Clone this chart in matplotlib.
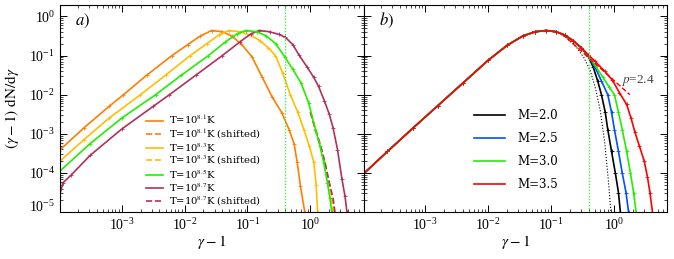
import numpy as np
import matplotlib
matplotlib.use("Agg")
import matplotlib.pyplot as plt
from matplotlib.ticker import (LogLocator, LogFormatterMathtext, NullFormatter,
                               FixedLocator)
from matplotlib.transforms import ScaledTranslation

plt.rcParams['mathtext.fontset'] = 'stix'
plt.rcParams['font.family'] = ['Liberation Serif', 'DejaVu Serif']

# panel a: log10(gamma-1), log10((gamma-1) dN/dgamma)
t81_lx = [-4.0, -3.6, -3.2, -2.97, -2.6, -2.2, -1.95, -1.75, -1.57, -1.4, -1.25, -1.1,
          -0.93, -0.77, -0.61, -0.455, -0.34, -0.26, -0.21, -0.16, -0.09]
t81_ly = [-3.44, -2.85, -2.3, -2.0, -1.5, -1.0, -0.72, -0.5, -0.36, -0.39, -0.5, -0.7,
          -1.03, -1.54, -2.05, -2.46, -2.89, -3.25, -3.73, -4.32, -5.0]
t83_lx = [-4.0, -3.6, -3.2, -2.7, -2.3, -1.91, -1.65, -1.45, -1.30, -1.12, -0.95, -0.8,
          -0.67, -0.555, -0.44, -0.32, -0.2, -0.105, -0.02, 0.054, 0.09, 0.115]
t83_ly = [-3.73, -3.15, -2.6, -2.0, -1.5, -1.0, -0.7, -0.47, -0.36, -0.39, -0.48, -0.62,
          -0.8, -1.0, -1.45, -2.0, -2.45, -2.89, -3.3, -3.73, -4.3, -5.0]
t85_lx = [-4.0, -3.5, -3.0, -2.46, -2.05, -1.62, -1.35, -1.17, -1.03, -0.85, -0.7, -0.55,
          -0.41, -0.28, -0.15, -0.03, 0.08, 0.15, 0.21, 0.27, 0.31, 0.34]
t85_ly = [-3.98, -3.25, -2.6, -2.0, -1.5, -1.0, -0.65, -0.45, -0.36, -0.39, -0.5, -0.7,
          -1.03, -1.35, -1.7, -2.2, -2.89, -3.3, -3.73, -4.25, -4.65, -5.0]
t87_lx = [-3.99, -3.93, -3.8, -3.5, -3.0, -2.5, -2.24, -1.82, -1.40, -1.12, -0.95, -0.82,
          -0.65, -0.5, -0.4, -0.28, -0.18, -0.05, 0.05, 0.13, 0.22, 0.3, 0.36, 0.43,
          0.5, 0.55, 0.58]
t87_ly = [-4.6, -4.25, -4.05, -3.55, -2.88, -2.3, -2.0, -1.5, -1.0, -0.65, -0.45, -0.36,
          -0.39, -0.46, -0.53, -0.72, -0.99, -1.3, -1.55, -1.79, -2.15, -2.5, -2.85, -3.4,
          -4.15, -4.6, -5.0]

# shifted tails (dashed), they sit on the T=10^8.5 curve
s81_lx = [0.0, 0.08, 0.16, 0.23, 0.29, 0.34, 0.37]
s81_ly = [-2.45, -2.89, -3.3, -3.73, -4.2, -4.6, -5.0]
s83_lx = [0.0, 0.08, 0.155, 0.22, 0.285, 0.33, 0.36]
s83_ly = [-2.45, -2.89, -3.3, -3.73, -4.25, -4.6, -5.0]
s87_lx = [0.0, 0.08, 0.16, 0.23, 0.3, 0.36, 0.39]
s87_ly = [-2.45, -2.89, -3.3, -3.73, -4.25, -4.65, -5.0]

# panel b: common low-energy part
b_core_lx = [-4.0, -3.6, -3.2, -2.8, -2.4, -2.0, -1.7, -1.45, -1.25, -1.08, -0.92, -0.78,
             -0.65, -0.52]
b_core_ly = [-4.05, -3.45, -2.86, -2.28, -1.7, -1.12, -0.74, -0.5, -0.39, -0.36, -0.39, -0.48,
             -0.62, -0.80]
m20_lx = [-0.41, -0.33, -0.26, -0.2, -0.14, -0.1, -0.04, 0.02, 0.07, 0.10]
m20_ly = [-1.02, -1.3, -1.65, -2.0, -2.45, -2.89, -3.45, -4.0, -4.5, -5.0]
m25_lx = [-0.41, -0.3, -0.2, -0.1, -0.04, 0.006, 0.07, 0.13, 0.19, 0.23]
m25_ly = [-1.0, -1.3, -1.65, -2.0, -2.45, -2.89, -3.45, -4.0, -4.5, -5.0]
m30_lx = [-0.41, -0.3, -0.18, -0.08, 0.006, 0.07, 0.13, 0.2, 0.26, 0.31, 0.35]
m30_ly = [-0.99, -1.25, -1.55, -1.8, -2.0, -2.45, -2.89, -3.45, -4.0, -4.5, -5.0]
m35_lx = [-0.41, -0.3, -0.15, -0.025, 0.086, 0.2, 0.27, 0.33, 0.40, 0.48, 0.53, 0.57, 0.61]
m35_ly = [-0.98, -1.15, -1.4, -1.63, -1.95, -2.25, -2.6, -2.95, -3.3, -3.7, -4.1, -4.5, -5.0]
maxw_lx = [-1.3, -1.08, -0.9, -0.75, -0.6, -0.48, -0.38, -0.3, -0.22, -0.15, -0.09, -0.05]
maxw_ly = [-0.39, -0.36, -0.41, -0.55, -0.78, -1.05, -1.38, -1.8, -2.4, -3.2, -4.2, -5.0]
p24_lx = [-0.83, 0.25]
p24_ly = [-0.44, -2.0]

t_colors = ['#ff7f00', '#ffbf00', '#22ee00', '#b03060']
m_colors = ['black', '#0050ff', '#22ee00', '#ff0000']
vline_x = 0.4
xlim = (1.05e-4, 7)
ylim = (1e-5, 2)
xmajor = [1e-3, 1e-2, 1e-1, 1e0]


def pw(lx):
    return 10 ** np.array(lx)


fig, (ax1, ax2) = plt.subplots(1, 2, figsize=(6.74, 2.59), dpi=100, sharey=True)
fig.subplots_adjust(left=0.089, right=0.99, top=0.982, bottom=0.181, wspace=0)

mk = dict(marker='+', ms=3, mew=0.6)
ls81, = ax1.plot(pw(s81_lx), pw(s81_ly), color=t_colors[0], lw=1.2, ls='--')
ls83, = ax1.plot(pw(s83_lx), pw(s83_ly), color=t_colors[1], lw=1.2, ls='--')
ls87, = ax1.plot(pw(s87_lx), pw(s87_ly), color=t_colors[3], lw=1.2, ls='--')
l81, = ax1.plot(pw(t81_lx), pw(t81_ly), color=t_colors[0], lw=1.2, **mk)
l83, = ax1.plot(pw(t83_lx), pw(t83_ly), color=t_colors[1], lw=1.2, **mk)
l87, = ax1.plot(pw(t87_lx), pw(t87_ly), color=t_colors[3], lw=1.2, **mk)
l85, = ax1.plot(pw(t85_lx), pw(t85_ly), color=t_colors[2], lw=1.2, **mk)
leg1 = ax1.legend([l81, ls81, l83, ls83, l85, l87, ls87],
                  [r'T=10$^{8.1}$K', r'T=10$^{8.1}$K (shifted)',
                   r'T=10$^{8.3}$K', r'T=10$^{8.3}$K (shifted)',
                   r'T=10$^{8.5}$K',
                   r'T=10$^{8.7}$K', r'T=10$^{8.7}$K (shifted)'],
                  loc='lower left', bbox_to_anchor=(0.262, -0.01), frameon=False,
                  prop={'family': 'DejaVu Serif', 'size': 7.2},
                  handlelength=1.7, labelspacing=0.0, borderpad=0.15, handletextpad=0.6)
for ln in leg1.get_lines():
    ln.set_marker('')

ax2.plot(pw(maxw_lx), pw(maxw_ly), color='black', lw=0.8, ls=':')
tails = [(m20_lx, m20_ly), (m25_lx, m25_ly), (m30_lx, m30_ly), (m35_lx, m35_ly)]
labels = ['M=2.0', 'M=2.5', 'M=3.0', 'M=3.5']
for (tx, ty), c, lab in zip(tails, m_colors, labels):
    ax2.plot(pw(b_core_lx + tx), pw(b_core_ly + ty), color=c, lw=1.2, label=lab, **mk)
ax2.plot(pw(p24_lx), pw(p24_ly), color='red', lw=1.0, ls='--')
ax2.text(1.3, 0.023, '$p$=2.4', fontsize=9.5, color='#444444', va='center')
leg2 = ax2.legend(loc='lower left', bbox_to_anchor=(0.33, 0.05), frameon=False,
                  prop={'family': 'DejaVu Serif', 'size': 8.5},
                  handlelength=2.6, labelspacing=0.85, handletextpad=1.0)
for ln in leg2.get_lines():
    ln.set_marker('')

for ax, tag in ((ax1, 'a)'), (ax2, 'b)')):
    ax.set_xscale('log')
    ax.set_yscale('log')
    ax.set_xlim(*xlim)
    ax.set_ylim(*ylim)
    ax.axvline(vline_x, color='#44ee44', lw=1.0, ls=(0, (1, 1.2)))
    ax.text(0.05, 0.9, '$' + tag + '$', transform=ax.transAxes, fontsize=12)
    ax.xaxis.set_major_locator(FixedLocator(xmajor))
    ax.xaxis.set_major_formatter(LogFormatterMathtext())
    ax.xaxis.set_minor_locator(LogLocator(base=10, subs=np.arange(2, 10), numticks=10))
    ax.xaxis.set_minor_formatter(NullFormatter())
    ax.yaxis.set_minor_locator(LogLocator(base=10, subs=np.arange(2, 10), numticks=10))
    ax.yaxis.set_minor_formatter(NullFormatter())
    ax.tick_params(which='both', direction='in', top=True, right=True, labelsize=10)
    ax.tick_params(which='major', length=5, width=0.7)
    ax.tick_params(which='minor', length=2.5, width=0.5)
    ax.set_xlabel(r'$\gamma-1$', fontsize=11, labelpad=0)

ax2.tick_params(labelleft=False)
ax1.set_ylabel(r'$(\gamma-1)\ \mathrm{dN/d}\gamma$', fontsize=11)
ax1.yaxis.set_label_coords(-0.13, 0.5)

# lift the bottom y label a little, like the original
fig.canvas.draw()
for tick in ax1.yaxis.get_major_ticks():
    if abs(tick.get_loc() - 1e-5) < 1e-9:
        lab = tick.label1
        lab.set_transform(lab.get_transform() + ScaledTranslation(0, 5 / 72, fig.dpi_scale_trans))

fig.savefig('out.png', dpi=100)
